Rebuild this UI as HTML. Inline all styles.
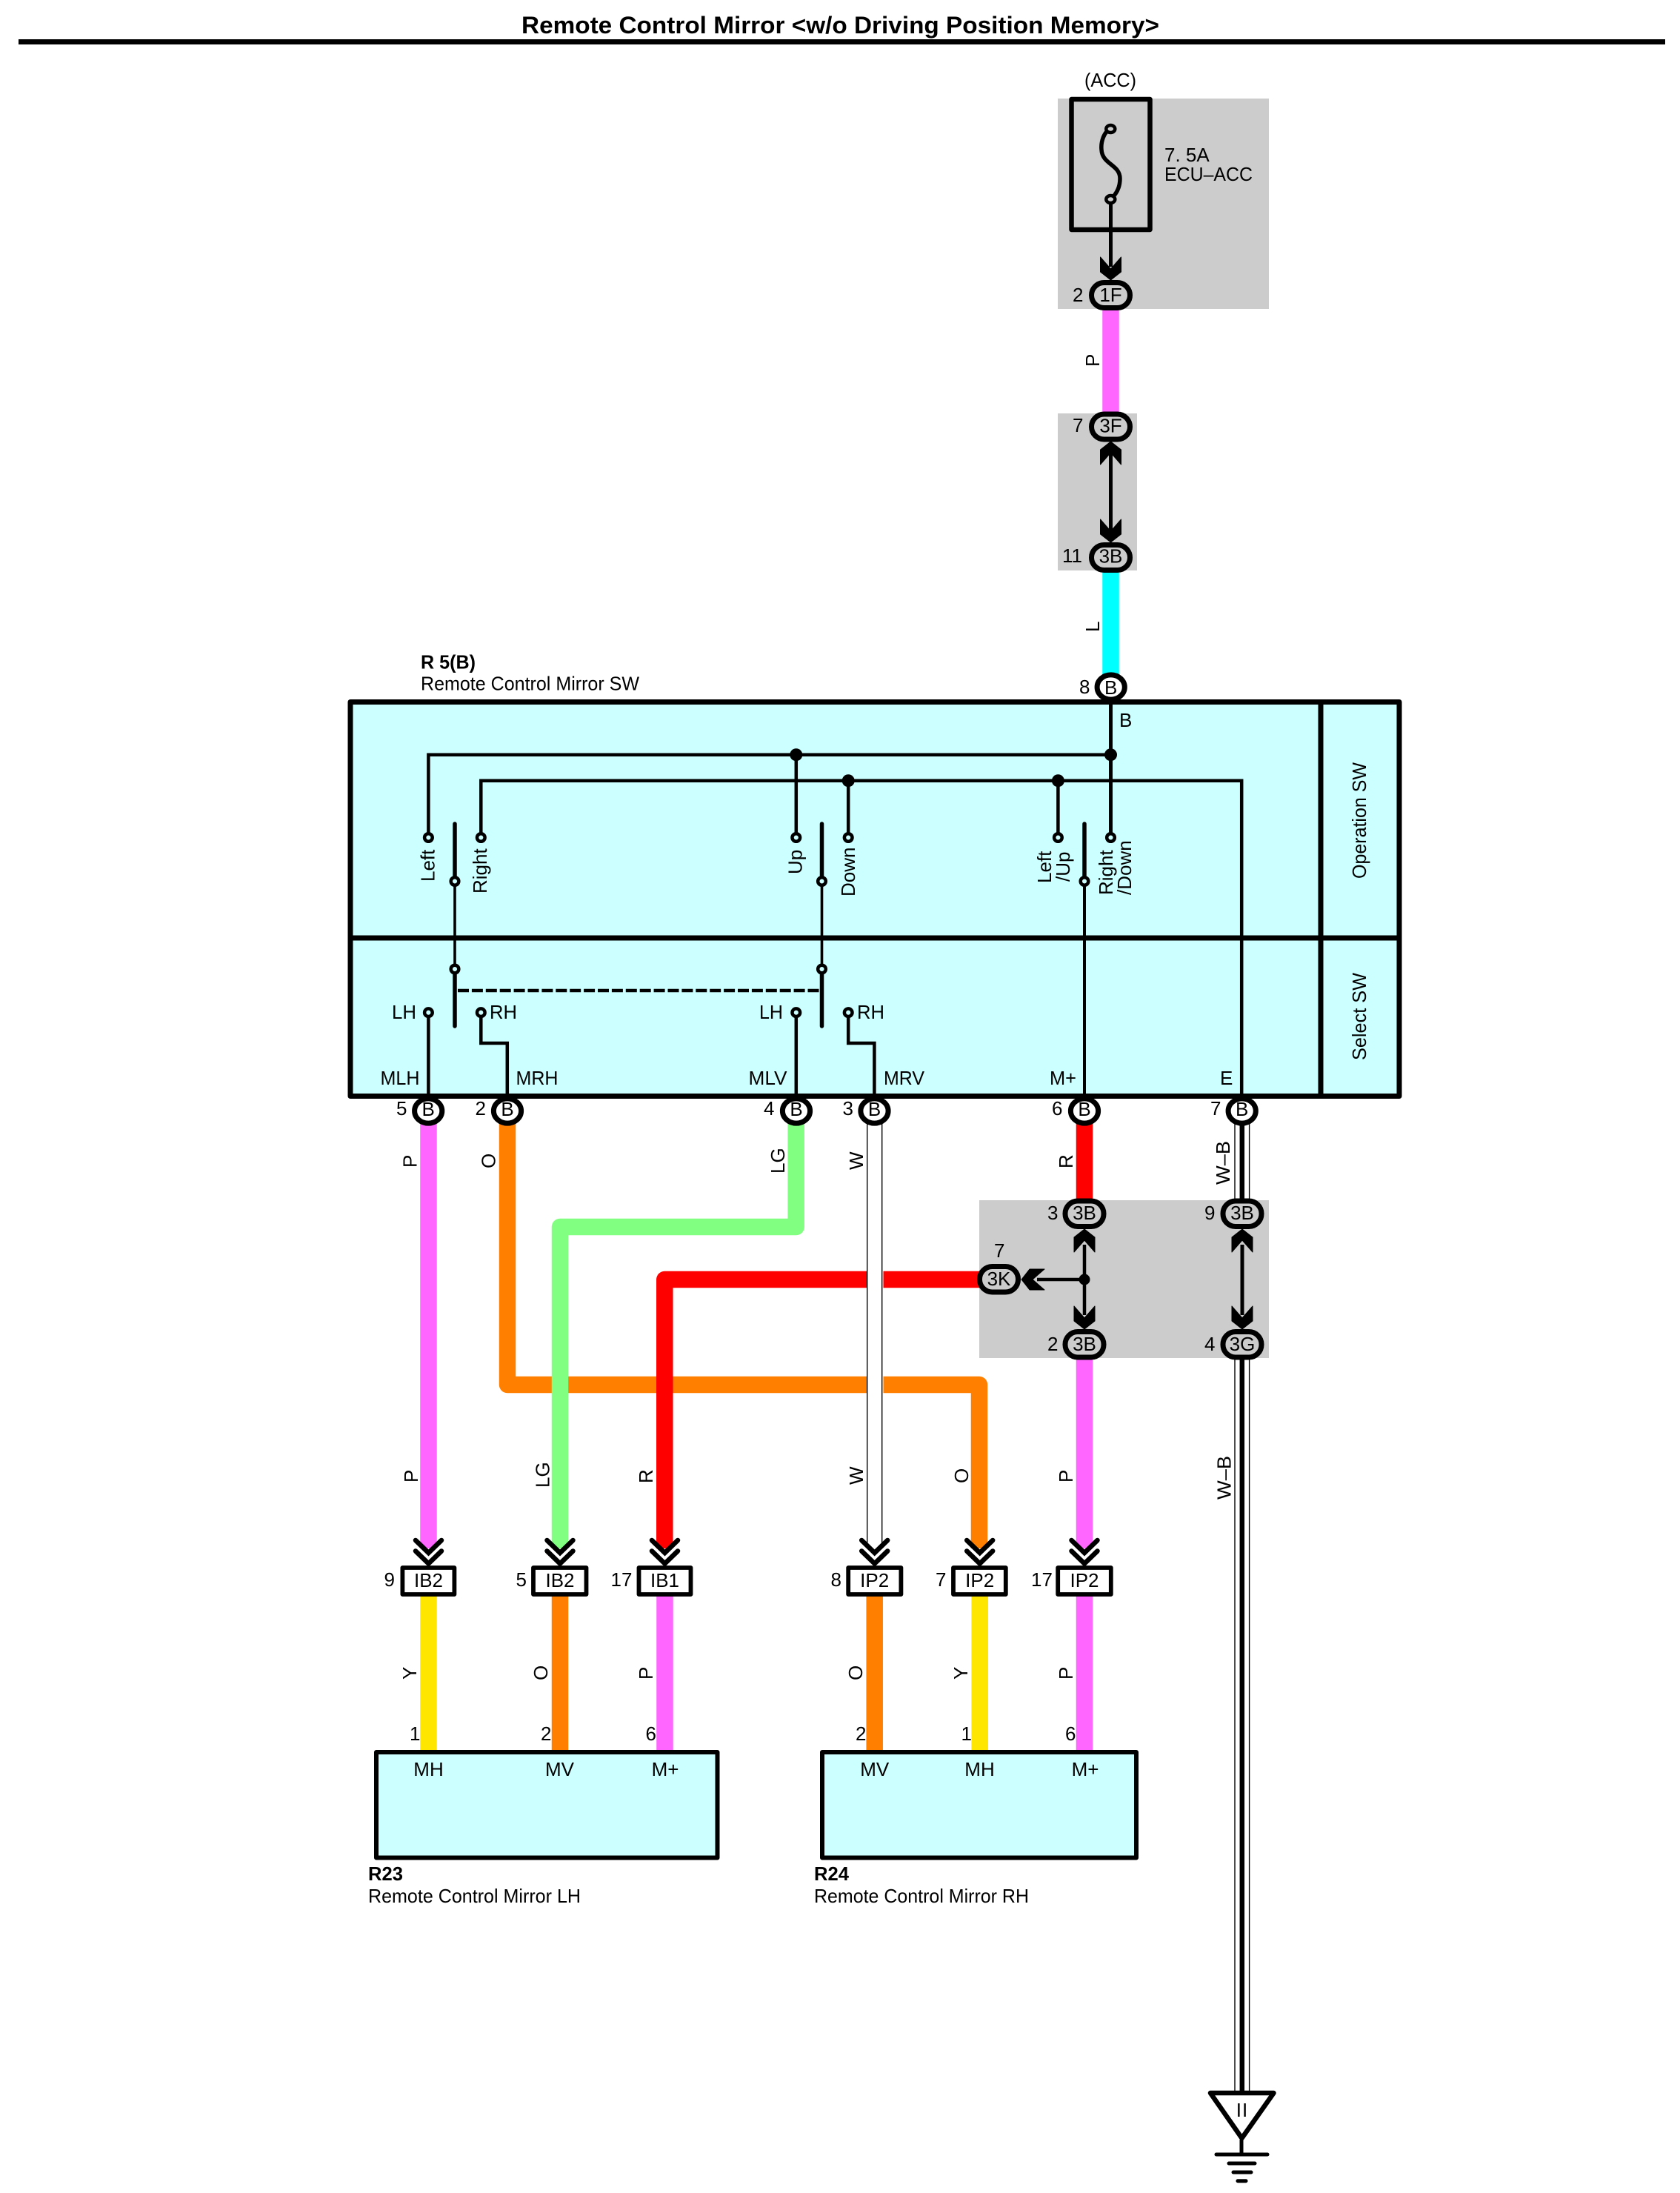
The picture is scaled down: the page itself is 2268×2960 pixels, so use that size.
<!DOCTYPE html>
<html><head><meta charset="utf-8"><title>Remote Control Mirror</title>
<style>
html,body{margin:0;padding:0;background:#fff}
svg{display:block}
text{font-family:"Liberation Sans",Arial,sans-serif;font-size:26px;fill:#000}
.m{text-anchor:middle}
.b{font-weight:bold}
.w{fill:none;stroke-width:22.5;stroke-linejoin:round}
.l{fill:none;stroke:#000;stroke-width:4.5}
.c{fill:#fff;stroke:#000;stroke-width:7}
.p{fill:#ccc;stroke:#000;stroke-width:7}
.t{fill:#ccffff;stroke:#000;stroke-width:4.5}
.d{fill:#000}
.h{fill:none;stroke:#000;stroke-width:6.5;stroke-linecap:round}
</style></head><body>
<svg xmlns="http://www.w3.org/2000/svg" width="2268" height="2960" viewBox="0 0 2268 2960">
<defs>
<polygon id="ar" points="-14,0 -14,20 0,31 14,20 14,0 0,16" fill="#000" stroke="#000" stroke-width="1" stroke-linejoin="round"/>
<g id="ch"><path class="h" stroke-linecap="round" d="M-17.5,2 L0,19 L17.5,2"/><path class="h" d="M-17.5,16.5 L0,33.5 L17.5,16.5"/></g>
</defs>
<rect width="2268" height="2960" fill="#fff"/>

<!-- title -->
<text x="704" y="45" class="b" style="font-size:32px" textLength="861" lengthAdjust="spacingAndGlyphs">Remote Control Mirror &lt;w/o Driving Position Memory&gt;</text>
<rect x="25" y="53" width="2223" height="7" fill="#000"/>

<!-- gray boxes -->
<rect x="1428" y="133" width="285" height="284" fill="#ccc"/>
<rect x="1428" y="558" width="107" height="212" fill="#ccc"/>
<rect x="1322" y="1620" width="391" height="213" fill="#ccc"/>

<!-- fuse -->
<rect x="1446.5" y="134" width="106" height="176" fill="none" stroke="#000" stroke-width="6.5" stroke-linejoin="round"/>
<path d="M1499,174 C1490,178 1486,192 1487,202 C1488,222 1512,222 1512,241 C1512,255 1505,264 1499,269" fill="none" stroke="#000" stroke-width="5.5"/>
<ellipse cx="1499.3" cy="174" rx="6" ry="5" fill="#ccc" stroke="#000" stroke-width="4.5"/>
<ellipse cx="1499.3" cy="269" rx="6" ry="5" fill="#ccc" stroke="#000" stroke-width="4.5"/>
<line x1="1499.5" y1="275" x2="1499.5" y2="360" stroke="#000" stroke-width="5"/>
<line x1="1499.5" y1="610" x2="1499.5" y2="720" stroke="#000" stroke-width="5"/>
<line x1="1464" y1="1680" x2="1464" y2="1775" stroke="#000" stroke-width="4.5"/>
<line x1="1677" y1="1680" x2="1677" y2="1775" stroke="#000" stroke-width="5"/>
<line x1="1400" y1="1727" x2="1464" y2="1727" stroke="#000" stroke-width="4.5"/>
<circle cx="1464" cy="1727" r="7.5" fill="#000"/>

<!-- colored wires -->
<line class="w" stroke="#ff66ff" x1="1499.5" y1="415" x2="1499.5" y2="558"/>
<line class="w" stroke="#00ffff" x1="1499.5" y1="770" x2="1499.5" y2="912"/>
<line class="w" stroke="#ff66ff" x1="578.5" y1="1515" x2="578.5" y2="2090"/>
<path class="w" stroke="#ff8000" d="M685,1515 V1869 H1322 V2090"/>
<path class="w" stroke="#80ff80" d="M1074.7,1515 V1656 H756 V2090"/>
<path class="w" stroke="#ff0000" d="M1325,1727 H897.3 V2090"/>
<line class="w" stroke="#ff0000" x1="1464" y1="1515" x2="1464" y2="1622"/>
<line class="w" stroke="#ff66ff" x1="1464" y1="1832" x2="1464" y2="2090"/>
<!-- W wire -->
<rect x="1170.7" y="1515" width="20" height="575" fill="#fff"/>
<rect x="1191" y="1710" width="1.5" height="180" fill="#fff"/>
<line x1="1170.7" y1="1515" x2="1170.7" y2="2085" stroke="#000" stroke-width="1.4"/>
<line x1="1190.7" y1="1515" x2="1190.7" y2="2085" stroke="#000" stroke-width="1.4"/>
<!-- W-B wire -->
<g stroke="#000">
<rect x="1667" y="1515" width="19.6" height="110" fill="#fff" stroke-width="1.4"/>
<rect x="1667" y="1830" width="19.6" height="995" fill="#fff" stroke-width="1.4"/>
<line x1="1676.8" y1="1515" x2="1676.8" y2="1625" stroke-width="6.5"/>
<line x1="1676.8" y1="1830" x2="1676.8" y2="2825" stroke-width="6.5"/>
</g>
<!-- lower wires -->
<line class="w" stroke="#ffe600" x1="578.5" y1="2150" x2="578.5" y2="2364"/>
<line class="w" stroke="#ff8000" x1="756" y1="2150" x2="756" y2="2364"/>
<line class="w" stroke="#ff66ff" x1="897.5" y1="2150" x2="897.5" y2="2364"/>
<line class="w" stroke="#ff8000" x1="1180.7" y1="2150" x2="1180.7" y2="2364"/>
<line class="w" stroke="#ffe600" x1="1322.7" y1="2150" x2="1322.7" y2="2364"/>
<line class="w" stroke="#ff66ff" x1="1464" y1="2150" x2="1464" y2="2364"/>

<!-- main box -->
<rect x="473" y="947.5" width="1416" height="532" fill="#ccffff" stroke="#000" stroke-width="7" stroke-linejoin="round"/>
<line x1="473" y1="1266" x2="1889" y2="1266" stroke="#000" stroke-width="7"/>
<line x1="1783" y1="947" x2="1783" y2="1480" stroke="#000" stroke-width="7"/>

<!-- internal lines -->
<line class="l" style="stroke-width:5" x1="1499.5" y1="947" x2="1499.5" y2="1130"/>
<path class="l" d="M1499.5,1018.7 H578.4 V1130"/>
<path class="l" d="M649.3,1130 V1053.7 H1676.2 V1480"/>
<line class="l" x1="1074.8" y1="1018.7" x2="1074.8" y2="1130"/>
<line class="l" x1="1145.2" y1="1053.7" x2="1145.2" y2="1130"/>
<line class="l" x1="1428.4" y1="1053.7" x2="1428.4" y2="1130"/>
<circle class="d" cx="1499.5" cy="1018.7" r="8.5"/>
<circle class="d" cx="1074.8" cy="1018.7" r="8.5"/>
<circle class="d" cx="1145.2" cy="1053.7" r="8.5"/>
<circle class="d" cx="1428.4" cy="1053.7" r="8.5"/>

<!-- switches -->
<g stroke="#000" stroke-linecap="round">
<line x1="614" y1="1112" x2="614" y2="1189" stroke-width="5.5"/>
<line x1="614" y1="1308" x2="614" y2="1385" stroke-width="5.5"/>
<line x1="1109.5" y1="1112" x2="1109.5" y2="1189" stroke-width="5.5"/>
<line x1="1109.5" y1="1308" x2="1109.5" y2="1385" stroke-width="5.5"/>
<line x1="1464" y1="1112" x2="1464" y2="1189" stroke-width="5.5"/>
</g>
<line class="l" style="stroke-width:3.6" x1="614" y1="1189" x2="614" y2="1308"/>
<line class="l" style="stroke-width:3.6" x1="1109.5" y1="1189" x2="1109.5" y2="1308"/>
<line class="l" style="stroke-width:4" x1="1464" y1="1189" x2="1464" y2="1480"/>
<line x1="618" y1="1337" x2="1106" y2="1337" stroke="#000" stroke-width="4.5" stroke-dasharray="15,3.9"/>

<!-- lower terminals -->
<line class="l" x1="578.4" y1="1367" x2="578.4" y2="1480"/>
<path class="l" d="M649.3,1367 V1408 H684.8 V1480"/>
<line class="l" x1="1074.8" y1="1367" x2="1074.8" y2="1480"/>
<path class="l" d="M1145.2,1367 V1408 H1180.4 V1480"/>

<circle class="t" cx="578.4" cy="1130.5" r="5.3"/>
<circle class="t" cx="649.3" cy="1130.5" r="5.3"/>
<circle class="t" cx="1074.8" cy="1130.5" r="5.3"/>
<circle class="t" cx="1145.2" cy="1130.5" r="5.3"/>
<circle class="t" cx="1428.4" cy="1130.5" r="5.3"/>
<circle class="t" cx="1499.5" cy="1130.5" r="5.3"/>
<circle class="t" cx="614" cy="1189.5" r="5.3"/>
<circle class="t" cx="1109.5" cy="1189.5" r="5.3"/>
<circle class="t" cx="1464" cy="1189.5" r="5.3"/>
<circle class="t" cx="614" cy="1308" r="5.3"/>
<circle class="t" cx="1109.5" cy="1308" r="5.3"/>
<circle class="t" cx="578.4" cy="1366.7" r="5.3"/>
<circle class="t" cx="649.3" cy="1366.7" r="5.3"/>
<circle class="t" cx="1074.8" cy="1366.7" r="5.3"/>
<circle class="t" cx="1145.2" cy="1366.7" r="5.3"/>

<!-- mirror boxes -->
<rect x="508" y="2365" width="460.5" height="142.5" fill="#ccffff" stroke="#000" stroke-width="6" stroke-linejoin="round"/>
<rect x="1110" y="2365" width="424" height="142.5" fill="#ccffff" stroke="#000" stroke-width="6" stroke-linejoin="round"/>

<!-- solid arrows -->
<use href="#ar" transform="translate(1499.5,347)"/>
<use href="#ar" transform="translate(1499.5,627) rotate(180)"/>
<use href="#ar" transform="translate(1499.5,701)"/>
<use href="#ar" transform="translate(1464,1690) rotate(180)"/>
<use href="#ar" transform="translate(1464,1763)"/>
<use href="#ar" transform="translate(1677,1690) rotate(180)"/>
<use href="#ar" transform="translate(1677,1763)"/>
<use href="#ar" transform="translate(1410,1727) rotate(90)"/>

<!-- pill connectors -->
<rect class="p" x="1473.5" y="381.5" width="52" height="34" rx="17"/>
<rect class="p" x="1473.5" y="559" width="52" height="34" rx="17"/>
<rect class="p" x="1473.5" y="735.5" width="52" height="34" rx="17"/>
<rect class="p" x="1438" y="1621" width="52" height="34.5" rx="17"/>
<rect class="p" x="1438" y="1797.5" width="52" height="34.5" rx="17"/>
<rect class="p" x="1651" y="1621" width="52" height="34.5" rx="17"/>
<rect class="p" x="1651" y="1797.5" width="52" height="34.5" rx="17"/>
<rect class="p" x="1322.5" y="1709.5" width="52" height="34.5" rx="17"/>

<!-- round B connectors -->
<ellipse class="c" cx="1499.7" cy="927.5" rx="18.6" ry="16.6"/>
<ellipse class="c" cx="578.2" cy="1499.5" rx="18.6" ry="16.6"/>
<ellipse class="c" cx="685" cy="1499.5" rx="18.6" ry="16.6"/>
<ellipse class="c" cx="1075" cy="1499.5" rx="18.6" ry="16.6"/>
<ellipse class="c" cx="1180.5" cy="1499.5" rx="18.6" ry="16.6"/>
<ellipse class="c" cx="1464" cy="1499.5" rx="18.6" ry="16.6"/>
<ellipse class="c" cx="1676.7" cy="1499.5" rx="18.6" ry="16.6"/>

<!-- chevrons -->
<use href="#ch" transform="translate(578.5,2077)"/>
<use href="#ch" transform="translate(756,2077)"/>
<use href="#ch" transform="translate(897.5,2077)"/>
<use href="#ch" transform="translate(1180.7,2077)"/>
<use href="#ch" transform="translate(1322.7,2077)"/>
<use href="#ch" transform="translate(1464,2077)"/>

<!-- rect connectors -->
<g fill="#fff" stroke="#000" stroke-width="5.8" stroke-linejoin="round">
<rect x="543.4" y="2116" width="70" height="36"/>
<rect x="720" y="2116" width="71.5" height="36"/>
<rect x="862.5" y="2116" width="70" height="36"/>
<rect x="1145.2" y="2116" width="71.2" height="36"/>
<rect x="1287" y="2116" width="70.8" height="36"/>
<rect x="1428.2" y="2116" width="71.6" height="36"/>
</g>

<!-- ground -->
<polygon points="1634,2825 1719.5,2825 1676.5,2886" fill="#fff" stroke="#000" stroke-width="6.5" stroke-linejoin="round"/>
<line x1="1676" y1="2888" x2="1676" y2="2908" stroke="#000" stroke-width="5"/>
<g stroke="#000" stroke-width="5" stroke-linecap="round">
<line x1="1642" y1="2908" x2="1711" y2="2908"/>
<line x1="1659" y1="2920" x2="1694" y2="2920"/>
<line x1="1665" y1="2932" x2="1689" y2="2932"/>
<line x1="1671" y1="2943.7" x2="1682" y2="2943.7"/>
</g>
<text x="1677" y="2857" class="m" style="letter-spacing:1px">II</text>

<!-- fuse text -->
<text x="1464" y="117" textLength="70" lengthAdjust="spacingAndGlyphs">(ACC)</text>
<text x="1572" y="218">7. 5A</text>
<text x="1572" y="244" textLength="119" lengthAdjust="spacingAndGlyphs">ECU–ACC</text>

<!-- pill text -->
<text class="m" x="1499.5" y="407">1F</text>
<text class="m" x="1499.5" y="583.5">3F</text>
<text class="m" x="1499.5" y="759.5">3B</text>
<text class="m" x="1464" y="1646">3B</text>
<text class="m" x="1464" y="1823">3B</text>
<text class="m" x="1677" y="1646">3B</text>
<text class="m" x="1677" y="1823">3G</text>
<text class="m" x="1348.5" y="1735">3K</text>

<!-- pin numbers gray -->
<text x="1448" y="407">2</text>
<text x="1448" y="583">7</text>
<text x="1434" y="759">11</text>
<text x="1414" y="1646">3</text>
<text x="1414" y="1823">2</text>
<text x="1626" y="1646">9</text>
<text x="1626" y="1823">4</text>
<text x="1342" y="1697">7</text>

<!-- B connectors -->
<text class="m" x="1499.7" y="937">B</text>
<text class="m" x="578.2" y="1506">B</text>
<text class="m" x="685" y="1506">B</text>
<text class="m" x="1075" y="1506">B</text>
<text class="m" x="1180.5" y="1506">B</text>
<text class="m" x="1464" y="1506">B</text>
<text class="m" x="1676.7" y="1506">B</text>
<text x="1457" y="936">8</text>
<text x="535" y="1505">5</text>
<text x="641.5" y="1505">2</text>
<text x="1031" y="1505">4</text>
<text x="1137.5" y="1505">3</text>
<text x="1420" y="1505">6</text>
<text x="1634" y="1505">7</text>

<!-- component heading -->
<text x="568" y="902.5" class="b" textLength="74" lengthAdjust="spacingAndGlyphs">R 5(B)</text>
<text x="568" y="931.5" textLength="295" lengthAdjust="spacingAndGlyphs">Remote Control Mirror SW</text>

<!-- main box labels -->
<text x="1511" y="981">B</text>
<text x="513.5" y="1464" textLength="53" lengthAdjust="spacingAndGlyphs">MLH</text>
<text x="696.5" y="1464" textLength="57" lengthAdjust="spacingAndGlyphs">MRH</text>
<text x="1010.5" y="1464" textLength="52" lengthAdjust="spacingAndGlyphs">MLV</text>
<text x="1193" y="1464" textLength="55" lengthAdjust="spacingAndGlyphs">MRV</text>
<text x="1417" y="1464" textLength="36" lengthAdjust="spacingAndGlyphs">M+</text>
<text x="1647" y="1464">E</text>
<text x="529" y="1375" textLength="33" lengthAdjust="spacingAndGlyphs">LH</text>
<text x="661" y="1375" textLength="37" lengthAdjust="spacingAndGlyphs">RH</text>
<text x="1025" y="1375" textLength="32" lengthAdjust="spacingAndGlyphs">LH</text>
<text x="1157" y="1375" textLength="37" lengthAdjust="spacingAndGlyphs">RH</text>

<!-- rotated labels -->
<g>
<text transform="translate(586.5,1190) rotate(-90)">Left</text>
<text transform="translate(657,1206) rotate(-90)">Right</text>
<text transform="translate(1082.5,1180) rotate(-90)">Up</text>
<text transform="translate(1154,1210) rotate(-90)">Down</text>
<text transform="translate(1419,1192) rotate(-90)">Left</text>
<text transform="translate(1444,1190) rotate(-90)">/Up</text>
<text transform="translate(1502,1208) rotate(-90)">Right</text>
<text transform="translate(1527,1208) rotate(-90)">/Down</text>
<text transform="translate(1844,1186) rotate(-90)" textLength="157" lengthAdjust="spacingAndGlyphs">Operation SW</text>
<text transform="translate(1844,1431) rotate(-90)" textLength="118" lengthAdjust="spacingAndGlyphs">Select SW</text>

<text transform="translate(1484,495) rotate(-90)">P</text>
<text transform="translate(1484,853) rotate(-90)">L</text>
<text transform="translate(562.7,1576) rotate(-90)">P</text>
<text transform="translate(668.5,1577) rotate(-90)">O</text>
<text transform="translate(1059,1584) rotate(-90)">LG</text>
<text transform="translate(1165,1579) rotate(-90)">W</text>
<text transform="translate(1448,1577) rotate(-90)">R</text>
<text transform="translate(1660,1599) rotate(-90)" textLength="59" lengthAdjust="spacingAndGlyphs">W–B</text>

<text transform="translate(564,2001) rotate(-90)">P</text>
<text transform="translate(741.7,2008) rotate(-90)">LG</text>
<text transform="translate(881,2002) rotate(-90)">R</text>
<text transform="translate(1165,2004) rotate(-90)">W</text>
<text transform="translate(1307,2002) rotate(-90)">O</text>
<text transform="translate(1448,2001) rotate(-90)">P</text>
<text transform="translate(1661.7,2024) rotate(-90)" textLength="59" lengthAdjust="spacingAndGlyphs">W–B</text>

<text transform="translate(562,2267) rotate(-90)">Y</text>
<text transform="translate(739,2268) rotate(-90)">O</text>
<text transform="translate(881,2267) rotate(-90)">P</text>
<text transform="translate(1164,2268) rotate(-90)">O</text>
<text transform="translate(1306,2267) rotate(-90)">Y</text>
<text transform="translate(1448,2267) rotate(-90)">P</text>
</g>

<!-- connector labels lower -->
<text class="m" x="578.5" y="2142">IB2</text>
<text class="m" x="756" y="2142">IB2</text>
<text class="m" x="897.5" y="2142">IB1</text>
<text class="m" x="1180.7" y="2142">IP2</text>
<text class="m" x="1322.7" y="2142">IP2</text>
<text class="m" x="1464" y="2142">IP2</text>
<text x="518.5" y="2141">9</text>
<text x="696.5" y="2141">5</text>
<text x="824.5" y="2141">17</text>
<text x="1121.5" y="2141">8</text>
<text x="1263" y="2141">7</text>
<text x="1392" y="2141">17</text>

<text x="553" y="2349">1</text>
<text x="730" y="2349">2</text>
<text x="871.5" y="2349">6</text>
<text x="1155" y="2349">2</text>
<text x="1297.5" y="2349">1</text>
<text x="1438" y="2349">6</text>

<text class="m" x="578.5" y="2397">MH</text>
<text class="m" x="755.5" y="2397">MV</text>
<text class="m" x="898" y="2397">M+</text>
<text class="m" x="1180.7" y="2397">MV</text>
<text class="m" x="1322.5" y="2397">MH</text>
<text class="m" x="1465" y="2397">M+</text>

<text x="497" y="2538" class="b" textLength="47" lengthAdjust="spacingAndGlyphs">R23</text>
<text x="497" y="2568" textLength="287" lengthAdjust="spacingAndGlyphs">Remote Control Mirror LH</text>
<text x="1099" y="2538" class="b" textLength="47" lengthAdjust="spacingAndGlyphs">R24</text>
<text x="1099" y="2568" textLength="290" lengthAdjust="spacingAndGlyphs">Remote Control Mirror RH</text>
</svg>
</body></html>
